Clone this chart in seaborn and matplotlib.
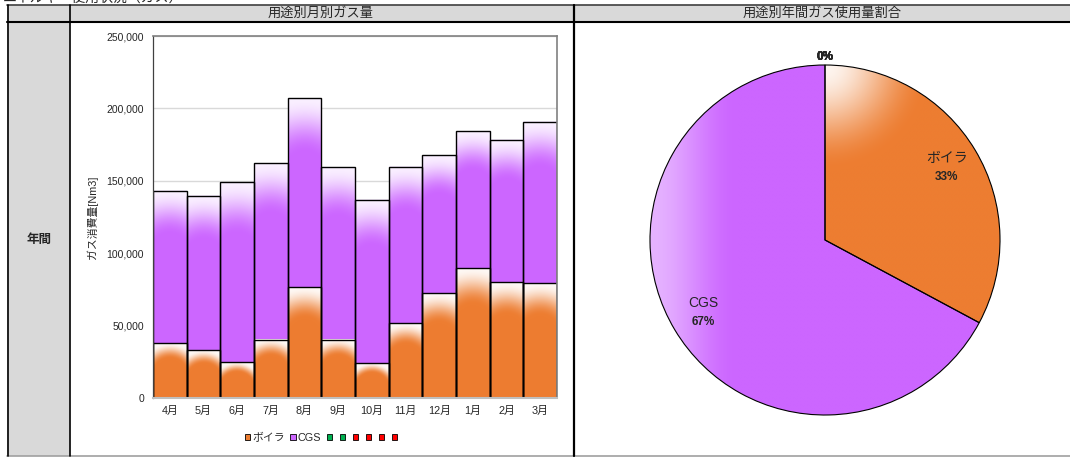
import numpy as np
import pandas as pd
import matplotlib
matplotlib.use("Agg")
import matplotlib.pyplot as plt
import seaborn as sns
from matplotlib.patches import Patch
from matplotlib.colors import to_rgb

# ---- data -------------------------------------------------------------
months = ["4月", "5月", "6月", "7月", "8月", "9月", "10月", "11月", "12月", "1月", "2月", "3月"]
boiler = [37700, 32900, 24800, 40200, 76600, 40200, 23900, 51500, 72500, 89700, 79800, 79100]
cgs = [105100, 106700, 124200, 122000, 130400, 119200, 112700, 107900, 95200, 94500, 98200, 111400]
series_names = ["ボイラ", "CGS"]
other_series_colors = ["#00B050", "#00B050", "#FF0000", "#FF0000", "#FF0000", "#FF0000"]
other_series_totals = [0, 0, 0, 0, 0, 0]
y_ticks = [0, 50000, 100000, 150000, 200000, 250000]

page_title = "エネルギー使用状況（ガス）"
bar_title = "用途別月別ガス量"
pie_title = "用途別年間ガス使用量割合"
row_label = "年間"
y_label = "ガス消費量[Nm3]"

ORANGE = "#ED7D31"
PURPLE = "#CC66FF"
GRAY_FILL = "#D9D9D9"

W, H = 1070, 457
sns.set_theme(style="white")
plt.rcParams["font.family"] = ["Liberation Sans", "Noto Sans CJK JP"]

fig = plt.figure(figsize=(W / 100, H / 100), dpi=100)
fig.patch.set_facecolor("white")


def px_axes(x0, y0, x1, y1, **kw):
    return fig.add_axes([x0 / W, 1 - y1 / H, (x1 - x0) / W, (y1 - y0) / H], **kw)


# ---- table frame ------------------------------------------------------
tab = px_axes(0, 0, W, H, zorder=0)
tab.set_xlim(0, W)
tab.set_ylim(H, 0)
tab.set_axis_off()
tab.fill_between([7, W], 5, 21.5, color=GRAY_FILL, lw=0)
tab.fill_between([7, 69.5], 21.5, 456, color=GRAY_FILL, lw=0)
tab.plot([7, W], [5, 5], color="#404040", lw=1.2)
tab.plot([7, W], [21.5, 21.5], color="black", lw=1.5)
tab.plot([7, W], [456.3, 456.3], color="#A0A0A0", lw=1.2)
tab.plot([7.5, 7.5], [5, 456], color="black", lw=1.2)
tab.plot([69.5, 69.5], [5, 456], color="black", lw=1.2)
tab.plot([573.5, 573.5], [5, 456], color="black", lw=1.6)
tab.text(321, 13.2, bar_title, ha="center", va="center", fontsize=9.5)
tab.text(822, 13.2, pie_title, ha="center", va="center", fontsize=9.5)
tab.text(39, 240, row_label, ha="center", va="center", fontsize=9, fontweight="bold")
tab.text(3, -2.5, page_title, ha="left", va="center", fontsize=10)

# ---- stacked monthly bars ---------------------------------------------
df = pd.DataFrame({"month": months, "ボイラ": boiler, "CGS": cgs})
df["total"] = df["ボイラ"] + df["CGS"]

ax = px_axes(153, 36, 557, 398, zorder=1)
sns.barplot(data=df, x="month", y="total", order=months, color=PURPLE, saturation=1,
            width=1.0, edgecolor="black", linewidth=1.0, ax=ax)
sns.barplot(data=df, x="month", y="ボイラ", order=months, color=ORANGE, saturation=1,
            width=1.0, edgecolor="black", linewidth=1.0, ax=ax)
ax.set_xlim(-0.5, len(months) - 0.5)
ax.set_ylim(0, 250000)


def shade_segment(ax, x0, x1, y0, y1, color, frac=0.27, max_white=0.94):
    """Fill a bar segment with a white-to-colour dome gradient from its top."""
    px0, py0 = ax.transData.transform((x0, y0))
    px1, py1 = ax.transData.transform((x1, y1))
    wpx = max(px1 - px0, 1.0)
    hpx = max(py1 - py0, 1.0)
    nx = int(np.ceil(wpx)) * 2
    ny = int(np.ceil(hpx)) * 2
    xs = (np.arange(nx) + 0.5) / nx * wpx
    ys = (np.arange(ny) + 0.5) / ny * hpx
    X, Yt = np.meshgrid(xs, ys)
    rw = wpx / 2
    L = max(frac * hpx, 4.0)
    cy = L + rw
    d = np.hypot(X - rw, np.clip(cy - Yt, 0, None))
    t = np.clip((d - rw) / L, 0, 1)
    t = t * t * (3 - 2 * t)
    base = np.array(to_rgb(color))
    img = base + (1 - base) * (max_white * t)[..., None]
    ax.imshow(img, extent=(x0, x1, y0, y1), origin="upper", aspect="auto",
              interpolation="bilinear", zorder=1.5)


n = len(months)
total_bars = ax.patches[:n]
boiler_bars = ax.patches[n:2 * n]
for tb, bb in zip(total_bars, boiler_bars):
    x0 = tb.get_x()
    x1 = x0 + tb.get_width()
    b_top = bb.get_height()
    t_top = tb.get_height()
    shade_segment(ax, x0, x1, b_top, t_top, PURPLE, frac=0.29, max_white=0.9)
    shade_segment(ax, x0, x1, 0, b_top, ORANGE, frac=0.28, max_white=0.95)
for p in ax.patches:
    p.set_facecolor("none")
    p.set_zorder(2)
ax.set_xlim(-0.5, len(months) - 0.5)
ax.set_ylim(0, 250000)

ax.set_yticks(y_ticks)
ax.set_yticklabels([f"{v:,}" for v in y_ticks])
ax.yaxis.grid(True, color="#D9D9D9", lw=1.0)
ax.xaxis.grid(False)
ax.set_axisbelow(True)
ax.tick_params(axis="y", length=0, pad=6.5, labelsize=7.5)
ax.tick_params(axis="x", length=0, pad=5.5, labelsize=7.8)
ax.set_xlabel("")
ax.set_ylabel(y_label, fontsize=7.8)
ax.yaxis.set_label_coords(-0.137, 0.5)
ax.set_facecolor("white")
for s in ["top", "right"]:
    ax.spines[s].set_color("#808080")
    ax.spines[s].set_linewidth(1.2)
ax.spines["left"].set_color("#404040")
ax.spines["left"].set_linewidth(0.9)
ax.spines["bottom"].set_color("#BFBFBF")
ax.spines["bottom"].set_linewidth(1.5)

# legend below the bars
handles = [Patch(facecolor=c, edgecolor="black", linewidth=0.6)
           for c in [ORANGE, PURPLE] + other_series_colors]
labels = series_names + [""] * len(other_series_colors)
fig.legend(handles, labels, loc="center", bbox_to_anchor=(322 / W, 1 - 438 / H), ncol=len(handles),
           frameon=False, fontsize=7.8, handlelength=0.5, handleheight=0.5,
           handletextpad=0.2, columnspacing=0.5, borderpad=0)

# ---- annual share pie -------------------------------------------------
annual = [sum(boiler), sum(cgs)]
total = sum(annual) + sum(other_series_totals)
m = 1.02
ax2 = px_axes(650 - 175 * (m - 1), 65 - 175 * (m - 1), 1000 + 175 * (m - 1), 415 + 175 * (m - 1), zorder=1)
wedges, _ = ax2.pie(annual, colors=[ORANGE, PURPLE], startangle=90, counterclock=False,
                    wedgeprops=dict(edgecolor="black", linewidth=0.8), radius=1)
ax2.set_xlim(-m, m)
ax2.set_ylim(-m, m)
ax2.set_aspect("equal")
ax2.set_axis_off()

g = np.linspace(-1, 1, 500)
X, Y = np.meshgrid(g, g[::-1])
# boiler slice: pale near the top of the circle
t_b = np.clip(1 - np.hypot(X, Y - 1) / 0.6, 0, 1)
t_b = t_b * t_b * (3 - 2 * t_b)
# CGS slice: lighter toward the left rim
t_c = np.clip(1 - (X + 1) / 0.5, 0, 1)
t_c = t_c * t_c * (3 - 2 * t_c)
for wedge, col, t, mw in [(wedges[0], ORANGE, t_b, 0.93), (wedges[1], PURPLE, t_c, 0.5)]:
    base = np.array(to_rgb(col))
    img = base + (1 - base) * (mw * t)[..., None]
    im = ax2.imshow(img, extent=(-1, 1, -1, 1), origin="upper", interpolation="bilinear", zorder=0.5)
    im.set_clip_path(wedge)
    wedge.set_facecolor("none")
    wedge.set_zorder(1)
ax2.set_xlim(-m, m)
ax2.set_ylim(-m, m)

for wedge, name, v in zip(wedges, series_names, annual):
    mid = np.deg2rad((wedge.theta1 + wedge.theta2) / 2)
    cx, cy = 0.81 * np.cos(mid), 0.81 * np.sin(mid)
    ax2.text(cx, cy + 0.055, name, ha="center", va="center", fontsize=10, zorder=3)
    ax2.text(cx, cy - 0.055, f"{round(v / total * 100)}%", ha="center", va="center",
             fontsize=8.5, fontweight="bold", zorder=3)
for v in other_series_totals:
    ax2.text(0, 1.045, f"{round(v / total * 100)}%", ha="center", va="center",
             fontsize=8.5, fontweight="bold", zorder=3, clip_on=False)

fig.savefig("out.png", dpi=100, facecolor="white")
